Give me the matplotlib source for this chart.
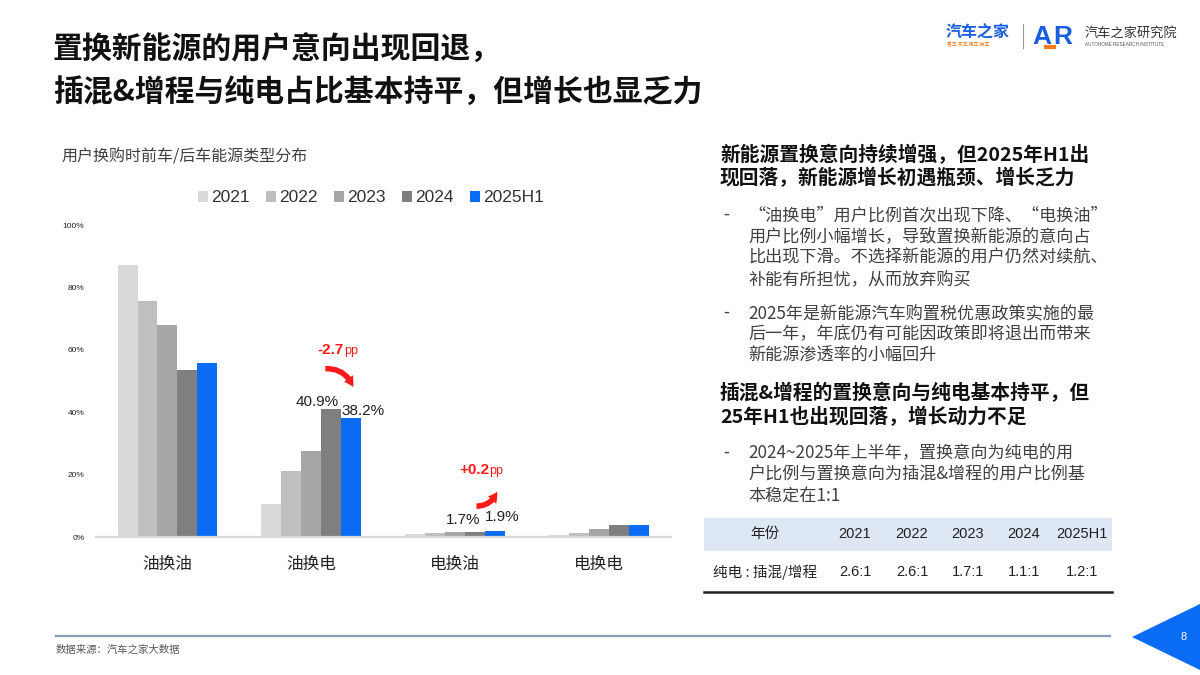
import matplotlib.pyplot as plt
from matplotlib.patches import Rectangle, Polygon
import numpy as np

# ---- data ----
categories = ['油换油', '油换电', '电换油', '电换电']
years = ['2021', '2022', '2023', '2024', '2025H1']
v2021 = [87.3, 10.5, 0.9, 0.5]
v2022 = [75.7, 21.0, 1.3, 1.4]
v2023 = [67.8, 27.6, 1.7, 2.6]
v2024 = [53.6, 40.9, 1.7, 3.9]
v2025 = [55.7, 38.2, 1.9, 4.0]
colors = ['#d9d9d9', '#bfbfbf', '#a6a6a6', '#7f7f7f', '#0a6cf5']

ratio_labels = ['2.6:1', '2.6:1', '1.7:1', '1.1:1', '1.2:1']

W, H = 1200, 675
CJK = ['Noto Sans CJK SC', 'DejaVu Sans']
LAT = ['Liberation Sans', 'Noto Sans CJK SC']
plt.rcParams['font.family'] = CJK


def fx(x):
    return x / W


def fy(y):
    return 1 - y / H


fig = plt.figure(figsize=(12, 6.75), dpi=100)
fig.patch.set_facecolor('white')

# ---- title & logo ----
fig.text(fx(53), fy(50), '置换新能源的用户意向出现回退，', fontsize=21.5, fontweight='bold',
         color='#111111', va='center')
fig.text(fx(53), fy(92), '插混&增程与纯电占比基本持平，但增长也显乏力', fontsize=21.5,
         fontweight='bold', color='#111111', va='center')

fig.text(fx(946), fy(32), '汽车之家', fontsize=11.5, fontweight='bold', color='#1a5fe0', va='center')
fig.text(fx(947), fy(45), '看车 买车 用车 换车', fontsize=3.5, color='#f07d1a', va='center')
fig.add_artist(plt.Line2D([fx(1023), fx(1023)], [fy(24), fy(48)], color='#999999', lw=0.8))
fig.text(fx(1032), fy(37), 'A', fontsize=19, fontweight='bold', color='#1a5fe0', va='center',
         family=LAT)
fig.text(fx(1053), fy(37), 'R', fontsize=19, fontweight='bold', color='#1a5fe0', va='center',
         family=LAT)
fig.add_artist(plt.Line2D([fx(1046), fx(1054)], [fy(47), fy(47)], color='#f07d1a', lw=3))
fig.text(fx(1085), fy(33), '汽车之家研究院', fontsize=9.5, color='#333333', va='center')
fig.text(fx(1085), fy(45), 'AUTOHOME RESEARCH INSTITUTE', fontsize=3.3, color='#555555',
         va='center', family=LAT)

# ---- chart ----
fig.text(fx(61), fy(157), '用户换购时前车/后车能源类型分布', fontsize=11.5, color='#404040',
         va='center')

ax = fig.add_axes([fx(95.5), fy(537), (671 - 95.5) / W, (537 - 225) / H])
x = np.arange(len(categories))
bw = 0.1385
series = [v2021, v2022, v2023, v2024, v2025]
for i, (vals, c, lab) in enumerate(zip(series, colors, years)):
    ax.bar(x + (i - 2) * bw, vals, width=bw, color=c, label=lab, edgecolor='none')

ax.set_xlim(-0.5, 3.5)
ax.set_ylim(0, 100)
ax.set_yticks([0, 20, 40, 60, 80, 100])
ax.set_yticklabels(['0%', '20%', '40%', '60%', '80%', '100%'], fontsize=6, family=LAT,
                   color='#222222')
ax.set_xticks(x)
ax.set_xticklabels(categories, fontsize=12, color='#222222')
ax.tick_params(axis='both', length=0)
ax.tick_params(axis='x', pad=14)
ax.tick_params(axis='y', pad=8)
for s in ['top', 'right', 'left']:
    ax.spines[s].set_visible(False)
ax.spines['bottom'].set_color('#d9d9d9')
ax.spines['bottom'].set_linewidth(1.6)

leg = ax.legend(loc='center', bbox_to_anchor=(fx(371), fy(198)), bbox_transform=fig.transFigure,
                ncol=5, frameon=False, handlelength=0.6, handleheight=0.6,
                handletextpad=0.2, columnspacing=0.9, prop={'family': LAT, 'size': 12.5})
for t in leg.get_texts():
    t.set_color('#333333')

# value labels for the highlighted bars
off24 = 1 * bw
off25 = 2 * bw
ax.text(1 + off24 - 0.10, v2024[1] + 2.4, f'{v2024[1]:.1f}%', ha='center', va='center',
        fontsize=11, family=LAT, color='#222222')
ax.text(1 + off25 + 0.08, v2025[1] + 2.2, f'{v2025[1]:.1f}%', ha='center', va='center',
        fontsize=11, family=LAT, color='#222222')
ax.text(2 + off24 - 0.08, v2024[2] + 3.7, f'{v2024[2]:.1f}%', ha='center', va='center',
        fontsize=11, family=LAT, color='#222222')
ax.text(2 + off25 + 0.05, v2025[2] + 4.5, f'{v2025[2]:.1f}%', ha='center', va='center',
        fontsize=11, family=LAT, color='#222222')

# change annotations
red = '#ff1a1a'
d1 = v2025[1] - v2024[1]
d2 = v2025[2] - v2024[2]
arrow_style = 'simple,head_width=0.8,head_length=0.7,tail_width=0.4'
ax.annotate('', xy=(1 + off25 + 0.02, v2025[1] + 9), xytext=(1 + off24 - 0.06, v2024[1] + 13),
            arrowprops=dict(arrowstyle=arrow_style, connectionstyle='arc3,rad=-0.4',
                            color=red, lw=0))
ax.text(1 + (off24 + off25) / 2 + 0.02, v2024[1] + 19, f'{d1:+.1f}', ha='right', va='center',
        fontsize=11, fontweight='bold', color=red, family=LAT)
ax.text(1 + (off24 + off25) / 2 + 0.02, v2024[1] + 18.7, 'pp', ha='left', va='center',
        fontsize=9, color=red, family=LAT)
ax.annotate('', xy=(2 + off25 + 0.02, v2025[2] + 13.5), xytext=(2 + off24 - 0.01, v2024[2] + 8.2),
            arrowprops=dict(arrowstyle=arrow_style, connectionstyle='arc3,rad=0.4',
                            color=red, lw=0))
ax.text(2 + (off24 + off25) / 2 + 0.03, v2025[2] + 19.6, f'{d2:+.1f}', ha='right', va='center',
        fontsize=11, fontweight='bold', color=red, family=LAT)
ax.text(2 + (off24 + off25) / 2 + 0.03, v2025[2] + 19.3, 'pp', ha='left', va='center',
        fontsize=9, color=red, family=LAT)

# ---- right panel ----
head_kw = dict(fontsize=14.2, fontweight='bold', color='#111111', va='center')
body_kw = dict(fontsize=12.3, color='#404040', va='center')
fig.text(fx(720), fy(155), '新能源置换意向持续增强，但2025年H1出', **head_kw)
fig.text(fx(720), fy(178), '现回落，新能源增长初遇瓶颈、增长乏力', **head_kw)

bullets = [
    (215, ['\u201c油换电\u201d用户比例首次出现下降、\u201c电换油\u201d',
           '用户比例小幅增长，导致置换新能源的意向占',
           '比出现下滑。不选择新能源的用户仍然对续航、',
           '补能有所担忧，从而放弃购买']),
    (313, ['2025年是新能源汽车购置税优惠政策实施的最',
           '后一年，年底仍有可能因政策即将退出而带来',
           '新能源渗透率的小幅回升']),
    (453, ['2024~2025年上半年，置换意向为纯电的用',
           '户比例与置换意向为插混&增程的用户比例基',
           '本稳定在1:1']),
]
for y0, lines in bullets:
    fig.text(fx(723), fy(y0), '-', **body_kw)
    for k, ln in enumerate(lines):
        fig.text(fx(748), fy(y0 + k * 21.3), ln, **body_kw)

fig.text(fx(720), fy(393), '插混&增程的置换意向与纯电基本持平，但', **head_kw)
fig.text(fx(720), fy(417), '25年H1也出现回落，增长动力不足', **head_kw)

# ---- table ----
fig.add_artist(Rectangle((fx(704), fy(551)), (1112 - 704) / W, (551 - 518) / H,
                         transform=fig.transFigure, facecolor='#dde8f4', edgecolor='none'))
fig.add_artist(plt.Line2D([fx(704), fx(1112)], [fy(592), fy(592)], color='#222222', lw=1.8))
col_x = [855, 912, 968, 1024, 1082]
fig.text(fx(765), fy(534), '年份', ha='center', va='center', fontsize=10.5, color='#222222')
fig.text(fx(765), fy(572), '纯电 : 插混/增程', ha='center', va='center', fontsize=10.5,
         color='#222222')
for cx, yr, r in zip(col_x, years, ratio_labels):
    fig.text(fx(cx), fy(534), yr, ha='center', va='center', fontsize=10.5, color='#222222',
             family=LAT)
    fig.text(fx(cx), fy(572), r, ha='center', va='center', fontsize=10.5, color='#222222',
             family=LAT)

# ---- footer ----
fig.add_artist(plt.Line2D([fx(56), fx(1110)], [fy(636), fy(636)], color='#8a9bb4', lw=1.6))
fig.text(fx(56), fy(650), '数据来源：汽车之家大数据', fontsize=7.5, color='#595959', va='center')
fig.add_artist(Polygon([[fx(1132), fy(637)], [fx(1200), fy(604)], [fx(1200), fy(670)]],
                       closed=True, transform=fig.transFigure, facecolor='#0a6cf5',
                       edgecolor='none'))
fig.text(fx(1184), fy(637), '8', fontsize=8, color='white', ha='center', va='center', family=LAT)

fig.savefig('out.png', dpi=100)
